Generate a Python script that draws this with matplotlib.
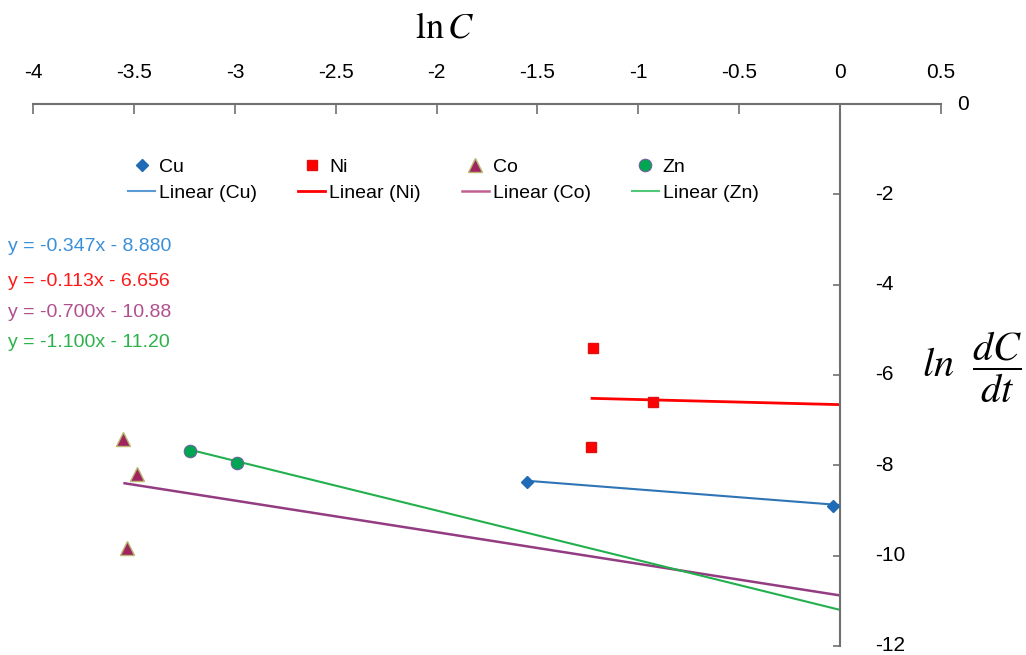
import matplotlib
matplotlib.use('Agg')
import matplotlib.pyplot as plt
from matplotlib.lines import Line2D
import matplotlib.transforms as mtransforms
import numpy as np

plt.rcParams['font.family'] = ['Liberation Sans', 'DejaVu Sans']
plt.rcParams['mathtext.fontset'] = 'stix'

# ---- data ----
cu_x = [-1.553, -0.035]
cu_y = [-8.37, -8.90]
ni_x = [-1.226, -0.926, -1.236]
ni_y = [-5.41, -6.59, -7.60]
co_x = [-3.553, -3.484, -3.537]
co_y = [-7.42, -8.19, -9.83]
zn_x = [-3.223, -2.991]
zn_y = [-7.68, -7.94]

series_names = ["Cu", "Ni", "Co", "Zn"]
slopes = [-0.347, -0.113, -0.700, -1.100]
intercepts = [-8.880, -6.656, -10.88, -11.20]
eq_labels = ["y = -0.347x - 8.880", "y = -0.113x - 6.656",
             "y = -0.700x - 10.88", "y = -1.100x - 11.20"]

x_ticks = [-4, -3.5, -3, -2.5, -2, -1.5, -1, -0.5, 0, 0.5]
x_tick_labels = ["-4", "-3.5", "-3", "-2.5", "-2", "-1.5", "-1", "-0.5", "0", "0.5"]
y_ticks = [-12, -10, -8, -6, -4, -2]
y_tick_labels = ["-12", "-10", "-8", "-6", "-4", "-2"]

# ---- styles ----
marker_styles = [
    dict(marker='D', ms=6, mfc='#1F6BB5', mec='#1F6BB5'),
    dict(marker='s', ms=7, mfc='#FF0000', mec='#E01010'),
    dict(marker='^', ms=10, mfc='#A0245F', mec='#B8B870', mew=1.0),
    dict(marker='o', ms=9, mfc='#00A651', mec='#7060A0', mew=0.8),
]
line_styles = [
    dict(color='#2E75B6', lw=1.5),
    dict(color='#FF0000', lw=2.0),
    dict(color='#933C82', lw=1.8),
    dict(color='#22B04E', lw=1.5),
]
legend_line_colors = ['#5B9BD5', '#FF0000', '#C06090', '#50C878']
eq_colors = ['#3A8FDA', '#FF1A1A', '#B0508F', '#2DB24A']

W, H = 1026, 655
fig = plt.figure(figsize=(W / 100, H / 100), dpi=100)
left_px, right_px = 33.2, 940.8
top_px, bottom_px = 104, 646
ax = fig.add_axes([left_px / W, 1 - bottom_px / H,
                   (right_px - left_px) / W, (bottom_px - top_px) / H])
ax.set_xlim(-4, 0.5)
ax.set_ylim(-12, 0)

xs_all = [cu_x, ni_x, co_x, zn_x]
ys_all = [cu_y, ni_y, co_y, zn_y]

handles = []
for i in range(4):
    xl = np.array([min(xs_all[i]), 0.0])
    yl = slopes[i] * xl + intercepts[i]
    ax.plot(xl, yl, zorder=2, solid_capstyle='butt', **line_styles[i])
    ax.plot(xs_all[i], ys_all[i], ls='none', zorder=3, clip_on=False,
            **marker_styles[i])
    handles.append(Line2D([], [], ls='none', **marker_styles[i]))
    handles.append(Line2D([], [], color=legend_line_colors[i],
                          lw=line_styles[i]['lw']))

labels = []
for n in series_names:
    labels += [n, f"Linear ({n})"]

# spines
spine_color = '#707070'
ax.spines['bottom'].set_visible(False)
ax.spines['left'].set_visible(False)
ax.spines['right'].set_position(('data', 0))
for s in ['top', 'right']:
    ax.spines[s].set_color(spine_color)
    ax.spines[s].set_linewidth(1.5)

ax.xaxis.tick_top()
ax.yaxis.tick_right()
ax.set_xticks(x_ticks)
ax.set_xticklabels(x_tick_labels)
ax.set_yticks(y_ticks)
ax.set_yticklabels(y_tick_labels)
ax.tick_params(axis='x', direction='in', length=7, width=1.2,
               color=spine_color, pad=16, labelsize=15)
ax.tick_params(axis='y', direction='in', length=5, width=1.2,
               color=spine_color, pad=25, labelsize=15)
offset = mtransforms.ScaledTranslation(0, 1.5 / 72, fig.dpi_scale_trans)
for lab in ax.get_yticklabels():
    lab.set_horizontalalignment('left')
    lab.set_transform(lab.get_transform() + offset)

# y "0" label at far right of top axis
fig.text(963 / W, 1 - 104 / H, "0", fontsize=15, ha='center', va='center')

# legend
leg = ax.legend(handles, labels, ncol=4, loc='upper left',
                bbox_to_anchor=(128.3 / W, 1 - 158 / H),
                bbox_transform=fig.transFigure, frameon=False,
                fontsize=14, handlelength=1.375, handletextpad=0.2,
                columnspacing=2.13, labelspacing=0.45, borderpad=0,
                borderaxespad=0, numpoints=1)

# equations
eq_y = [246.7, 281, 312.5, 342.5]
for i in range(4):
    fig.text(8 / W, 1 - eq_y[i] / H, eq_labels[i], color=eq_colors[i],
             fontsize=14, ha='left', va='center')

# axis labels
fig.text(445 / W, 1 - 28 / H, r'$\ln C$', fontsize=26, ha='center', va='center')
fig.text(972 / W, 1 - 367 / H, r'$ln\ \ \dfrac{dC}{dt}$', fontsize=29,
         ha='center', va='center')

fig.savefig('out.png', dpi=100)
